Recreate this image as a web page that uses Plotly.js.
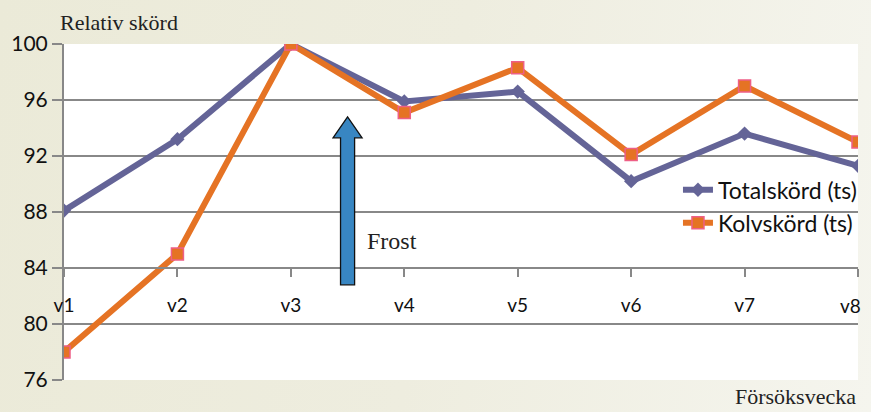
<!DOCTYPE html>
<html><head><meta charset="utf-8">
<script src="https://cdn.plot.ly/plotly-3.0.1.min.js"></script>
<style>
html,body{margin:0;padding:0;}
body{width:871px;height:412px;background:linear-gradient(100deg,#EBEAD8 0%,#EEEDDF 50%,#F5F5EE 100%);}
#chart{width:871px;height:412px;}
</style></head>
<body><div id="chart"></div>
<script>
const categories = ["v1","v2","v3","v4","v5","v6","v7","v8"];
const totalskord = [88.1, 93.2, 100, 95.9, 96.6, 90.2, 93.6, 91.3];
const kolvskord  = [78.0, 85.0, 100, 95.1, 98.3, 92.1, 97.0, 93.0];
const yTicks = [76, 80, 84, 88, 92, 96, 100];
const seriesNames = ["Totalskörd (ts)", "Kolvskörd (ts)"];

const xIdx = categories.map((c,i)=>i);
const lastIdx = categories.length-1;
// the last label is drawn as an annotation kept inside the chart edge (as in the reference)
const tickText = categories.map((c,i)=> i===lastIdx ? '' : c);

const traces = [
  {x: xIdx, y: totalskord, name: seriesNames[0], type:'scatter', mode:'lines+markers',
   line:{color:'#646497', width:6}, marker:{symbol:'diamond', size:11, color:'#646497'}},
  {x: xIdx, y: kolvskord, name: seriesNames[1], type:'scatter', mode:'lines+markers',
   line:{color:'#E57324', width:6}, marker:{symbol:'square', size:12, color:'#E57324', line:{color:'#EE5F86', width:1.5}}}
];

// Frost arrow (data coords around x=2.5)
const ax = 2.5, sw = 0.062, hw = 0.128;
const yTip = 94.8, yHead = 93.3, yBot = 82.8;
const arrowPath = `M ${ax-sw} ${yBot} L ${ax-sw} ${yHead} L ${ax-hw} ${yHead} L ${ax} ${yTip} L ${ax+hw} ${yHead} L ${ax+sw} ${yHead} L ${ax+sw} ${yBot} Z`;

const tickFont = {family:'Lato, sans-serif', size:19, color:'#111'};

const layout = {
  width: 871, height: 412,
  margin: {l:64, r:9, t:44, b:32},
  paper_bgcolor: 'rgba(0,0,0,0)',
  plot_bgcolor: '#FFFFFF',
  showlegend: true,
  legend: {x:1.005, xanchor:'right', y:0.63, yanchor:'top', bgcolor:'rgba(0,0,0,0)',
           font:{family:'Lato, sans-serif', size:23, color:'#111'}, itemwidth:30},
  xaxis: {
    range:[0,7], tickmode:'array', tickvals:xIdx, ticktext:tickText,
    anchor:'free', position:(84-76)/24,
    showgrid:false, zeroline:false, showline:true, linecolor:'#888', linewidth:2,
    ticks:'outside', ticklen:8, tickwidth:2, tickcolor:'#888',
    ticklabelstandoff: 12,
    tickfont: tickFont
  },
  yaxis: {
    range:[76,100], tickmode:'array', tickvals:yTicks,
    showgrid:true, gridcolor:'#888', gridwidth:2, zeroline:false,
    showline:true, linecolor:'#888', linewidth:2,
    ticks:'outside', ticklen:10, tickwidth:2, tickcolor:'#888',
    tickfont:{family:'Lato, sans-serif', size:21, color:'#111'}
  },
  shapes: [
    {type:'path', xref:'x', yref:'y', path: arrowPath, fillcolor:'#3886C2', line:{color:'#111', width:1.3}, layer:'above'}
  ],
  annotations: [
    {text: categories[lastIdx], xref:'x', yref:'y', x:lastIdx, y:84, yshift:-37, xshift:5, xanchor:'right', yanchor:'middle', showarrow:false,
     font: tickFont},
    {text:'Relativ skörd', xref:'paper', yref:'paper', x:-0.007, y:1.02, xanchor:'left', yanchor:'bottom', showarrow:false,
     font:{family:'Liberation Serif, serif', size:22, color:'#222'}},
    {text:'Försöksvecka', xref:'paper', yref:'paper', x:1.0, y:-0.092, xanchor:'right', yanchor:'bottom', showarrow:false,
     font:{family:'Liberation Serif, serif', size:22, color:'#222'}},
    {text:'Frost', xref:'x', yref:'y', x:2.65, y:85.9, xanchor:'left', yanchor:'middle', showarrow:false,
     font:{family:'Liberation Serif, serif', size:24, color:'#222'}}
  ]
};

Plotly.newPlot('chart', traces, layout, {displayModeBar:false, staticPlot:true});
</script>
</body></html>
